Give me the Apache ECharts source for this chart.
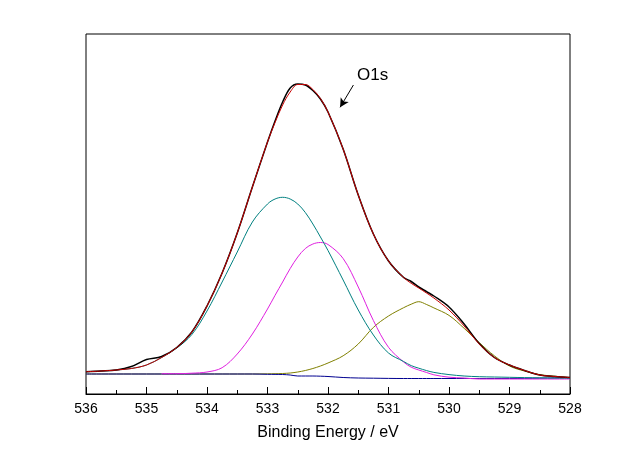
<!DOCTYPE html>
<html>
<head>
<meta charset="utf-8">
<script src="https://cdn.jsdelivr.net/npm/echarts@6/dist/echarts.min.js"></script>
<style>
html,body{margin:0;padding:0;background:#fff;}
#chart{width:641px;height:462px;}
</style>
</head>
<body>
<div id="chart"></div>
<script>
// Binding energy grid (eV)
var energies = [536,535.75,535.5,535.25,535,534.75,534.5,534.25,534,533.75,533.5,533.25,533,
  532.875,532.75,532.625,532.5,532.375,532.25,532.125,532,
  531.75,531.5,531.25,531,530.75,
  530.625,530.5,530.375,530.25,530,
  529.75,529.5,529.25,529,528.75,528.5,528.25,528];

// Measured spectrum (black)
var measured = [22.3,23,24,27.5,34.5,37.5,46.5,62,88,121,161,207,252,
  273,292,306,310,309,303.5,295,282,
  245,199,160,133,116.5,
  112.5,107,102.5,98,87,
  70,50.5,36.5,29,23.5,19,17.5,16.5];
// Fitted envelope (red)
var envelope = [22.3,23,24,25.5,29,36.5,46.5,62,88,121,161,207,252,
  271.5,289,302,309.5,309.5,304.5,295.5,282,
  245,199,160,133,116.5,
  110.7,106,101.1,96,84,
  68,50,36.5,29,23.5,19,17.5,16.5];
// Component 1 (teal)
var peakA = [22.3,23,24,25.5,29,36.5,46,59.5,83,112,142,172,190,
  195,196.7,195,190,181.5,170,157,143.5,
  114,84,59,41,32.5,
  28.4,25.8,23.5,21.6,19.4,
  18,17.3,17,16.7,16.4,16.2,16,15.8];
// Component 2 (magenta) – starts at 534.75 eV
var peakB = [null,null,null,null,null,20.3,20.3,20.8,22,26.3,40,60,85,
  98.7,112,125.5,137,145.5,150,151.5,149.5,
  135.5,107,73.5,46.7,32,
  26.8,24,21.6,19.2,16.8,
  16,15,15,15,15,15,15,15];
// Component 3 (olive)
var peakC = [20,20,20,20,20,20,20,20,20,20,20,20,20.2,
  20.3,20.5,21,22,23.5,25.5,28,31,
  38.2,50,66.6,78,86.3,
  89.8,92.3,89.6,86.1,78.6,
  65.7,51.4,38.2,28,22.9,19.3,17.8,16.3];
// Background (navy)
var background = [20,20,20,20,20,20,20,20,20,20,20,20,19.7,
  19.6,19.5,19,18,18,18,17.8,17.5,
  16.5,16,15.8,15.6,15.5,
  15.5,15.5,15.5,15.5,15.5,
  15.5,15.5,15.5,15.5,15.6,15.8,16,16.2];

var xTicks = [528,529,530,531,532,533,534,535,536];

function pairs(vals){
  var out = [];
  for (var i=0;i<energies.length;i++){
    if (vals[i] !== null) out.push([energies[i], vals[i]]);
  }
  return out;
}

var FONT = 'Arial, "Liberation Sans", sans-serif';
var chart = echarts.init(document.getElementById('chart'), null, {renderer:'canvas'});

function lineSeries(name, vals, color, width, z){
  return {
    name: name, type:'line', data: pairs(vals), smooth: 0.35,
    showSymbol:false, symbol:'none', z: z,
    lineStyle:{color:color, width:width},
    emphasis:{disabled:true}, animation:false
  };
}

var env = lineSeries('envelope', envelope, '#c80000', 1, 10);
env.markLine = {
  silent:true, animation:false,
  symbol:['none','arrow'], symbolSize:[7,9],
  lineStyle:{color:'#000', width:1, type:'solid'},
  label:{show:false},
  data:[[{coord:[531.58,309]},{coord:[531.80,286.7]}]]
};

chart.setOption({
  backgroundColor:'#fff',
  animation:false,
  grid:{left:86, right:71, top:34, bottom:68, show:true, borderColor:'#000', borderWidth:1, backgroundColor:'transparent'},
  xAxis:{
    type:'value', min:528, max:536, interval:1, inverse:true,
    name:'Binding Energy / eV', nameLocation:'middle', nameGap:31,
    nameTextStyle:{fontFamily:FONT, fontSize:16, color:'#000'},
    axisLine:{show:true, lineStyle:{color:'#000', width:1}},
    axisTick:{show:true, inside:true, length:7, lineStyle:{color:'#000'}},
    minorTick:{show:true, splitNumber:2, length:4, lineStyle:{color:'#000'}},
    axisLabel:{fontFamily:FONT, fontSize:14, color:'#000', margin:8},
    splitLine:{show:false}
  },
  yAxis:{
    type:'value', min:0, max:360, show:false, splitLine:{show:false}
  },
  graphic:[{
    type:'text', left:357, top:67,
    style:{text:'O1s', font:'17px Arial, "Liberation Sans", sans-serif', fill:'#000'}
  }],
  series:[
    lineSeries('olive', peakC, '#808000', 1, 2),
    lineSeries('background', background, '#000090', 1, 3),
    lineSeries('magenta', peakB, '#e020e0', 1, 4),
    lineSeries('teal', peakA, '#008080', 1, 5),
    lineSeries('measured', measured, '#000', 1.5, 8),
    env
  ]
});
</script>
</body>
</html>
